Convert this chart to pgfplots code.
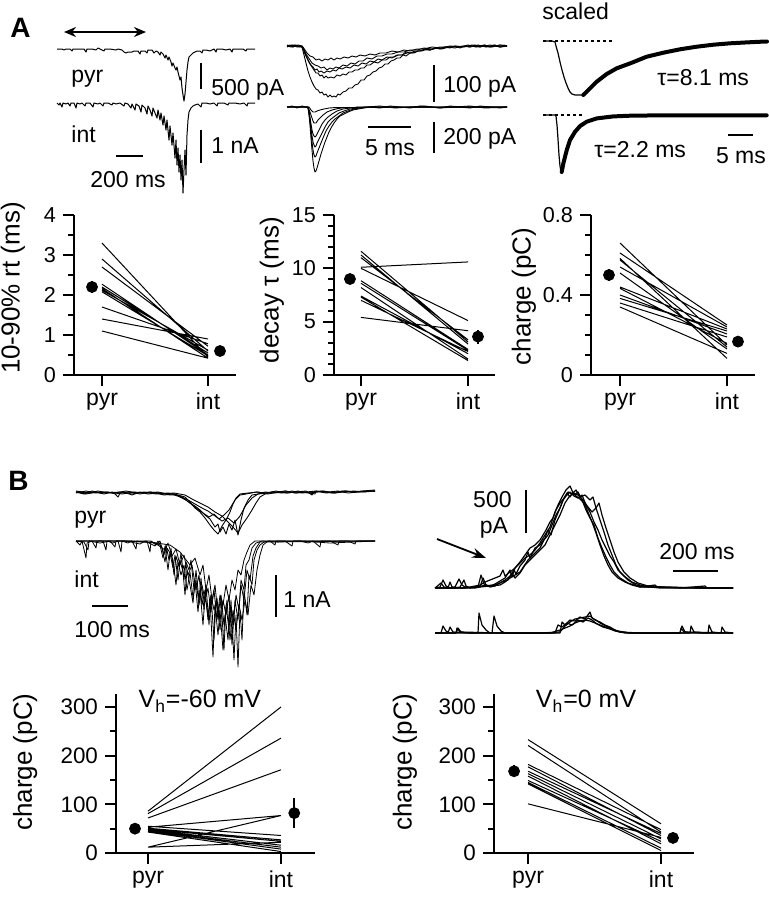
\documentclass[border=0pt]{standalone}
\usepackage{fontspec}
\setmainfont{Liberation Sans}
\usepackage{pgfplots}
\pgfplotsset{compat=1.18}
\usetikzlibrary{arrows.meta}

\tikzset{lab/.style={font=\fontsize{11.5}{13}\selectfont, inner sep=0pt}}
\pgfplotsset{
  pair/.style={
    scale only axis, anchor=south west, clip=false,
    axis lines=left, axis line style={-, line width=1pt},
    tick align=outside, major tick length=5.5pt, minor tick length=2.8pt,
    every tick/.style={black, line width=1pt},
    xtick={0,1}, xticklabels={pyr,int},
    /pgf/number format/assume math mode=true,
    yticklabel style={font=\fontsize{10.8}{12}\selectfont, /pgf/number format/fixed},
    xticklabel style={font=\fontsize{11.5}{13}\selectfont},
    ylabel style={font=\fontsize{13}{15}\selectfont, anchor=center},
  },
  pl/.style={black, line width=0.5pt, unbounded coords=jump},
  mean/.style={only marks, mark=*, mark size=2.75pt, black,
    error bars/.cd, y dir=both, y explicit, error mark=none,
    error bar style={line width=0.9pt}},
  tr/.style={black, line width=0.45pt, line join=round},
}

\begin{document}
\begin{tikzpicture}
\useasboundingbox (0,0) rectangle (384.5pt,-449.5pt);

% ---------- traces, placed on a frame in pixels of the original figure
\begin{axis}[at={(0pt,0pt)}, anchor=north west, scale only axis,
  width=384.5pt, height=449.5pt, xmin=0, xmax=769, ymin=0, ymax=899,
  y dir=reverse, hide axis, clip=false]

\node[anchor=base west, inner sep=0pt, font=\bfseries\fontsize{14}{16}\selectfont] at (axis cs:10,37) {A};
\node[anchor=base west, inner sep=0pt, font=\bfseries\fontsize{14}{16}\selectfont] at (axis cs:8,490) {B};

% A, left: pyr / int, long sweep
\draw[{Stealth[length=6pt,width=5pt]}-{Stealth[length=6pt,width=5pt]}, line width=0.8pt] (axis cs:64,32) -- (axis cs:146,32);
\addplot[tr, line width=0.5pt] coordinates {
(57,49)(62,49)(64,50)(66,49)(70,49)(72,51)(73,49)(80,49)(84,49)(86,52)(87,49)(92,49)(96,50)(98,48)(100,49)(104,51)(105,49)(110,49)(116,50)(118,49)(122,50)(124,52)(126,53)(128,52)(132,52)(134,51)(138,51)(140,54)(141,51)(145,51)(147,53)(148,50)(152,50)(154,53)(156,51)(158,52)(160,55)(161,52)(163,54)(165,58)(166,55)(168,60)(169,57)(171,62)(172,66)(173,63)(175,68)(176,70)(177,67)(178,72)(179,76)(180,80)(181,77)(182,88)(183,95)(184,101)(185,94)(186,82)(187,70)(188,62)(189,57)(191,55)(193,53)(195,52)(197,51)(200,51)(202,53)(203,50)(206,50)(210,51)(214,49)(216,52)(217,49)(222,49)(226,50)(230,49)(232,52)(233,49)(238,49)(243,49)(246,51)(247,49)(255,49)};
\addplot[tr, line width=0.5pt] coordinates {
(57,103)(59,105)(60,103)(62,107)(63,103)(66,104)(68,103)(70,106)(71,103)(74,103)(76,108)(77,103)(80,104)(82,103)(85,106)(86,103)(90,103)(93,107)(94,103)(98,104)(100,103)(103,106)(104,103)(108,103)(112,105)(113,103)(116,104)(120,103)(124,106)(125,103)(128,104)(131,108)(132,104)(135,110)(136,104)(139,106)(141,112)(142,105)(145,108)(147,114)(148,106)(150,110)(152,116)(153,108)(155,113)(157,118)(158,110)(160,120)(161,113)(163,125)(164,116)(166,130)(167,120)(169,140)(170,126)(172,145)(173,133)(175,158)(176,140)(177,165)(178,148)(179,172)(180,155)(181,180)(182,160)(183,193)(184,170)(185,150)(186,175)(187,135)(188,120)(189,112)(191,108)(193,106)(195,105)(198,104)(201,107)(202,103)(206,103)(210,104)(214,103)(217,106)(218,103)(224,103)(228,105)(229,103)(235,103)(240,104)(244,103)(247,106)(248,103)(255,103)};
\node[lab, anchor=base west] at (axis cs:71,82) {pyr};
\node[lab, anchor=base west] at (axis cs:71,142) {int};
\draw[line width=1pt] (axis cs:201,63) -- (axis cs:201,89);
\node[lab, anchor=base west] at (axis cs:211,95) {500 pA};
\draw[line width=1pt] (axis cs:201,130) -- (axis cs:201,163);
\node[lab, anchor=base west] at (axis cs:211,153) {1 nA};
\draw[line width=1pt] (axis cs:116,156) -- (axis cs:143,156);
\node[lab, anchor=base] at (axis cs:128,187) {200 ms};

% A, middle: single events
\addplot[tr] coordinates {(287,46)(290,45)(293,47)(296,45)(299,46)(302,47)(304,55)(306,63)(308,71)(310,77)(312,82)(314,86)(316,89)(318,90)(320,93)(322,92)(324,95)(326,94)(328,97)(330,95)(332,97)(334,96)(336,97)(338,94)(340,95)(343,92)(346,91)(349,88)(352,88)(355,85)(358,84)(361,80)(364,80)(367,76)(370,75)(373,72)(376,71)(379,68)(382,67)(385,64)(388,64)(391,61)(394,60)(397,58)(400,58)(403,55)(406,56)(410,53)(414,53)(418,51)(422,51)(426,49)(430,50)(435,48)(440,49)(445,47)(450,48)(455,46)(460,48)(465,46)(470,47)(475,45)(480,47)(485,45)(490,47)(495,45)(500,47)(504,45)(507,46)};
\addplot[tr] coordinates {(287,46)(291,47)(295,45)(299,47)(302,46)(304,50)(306,55)(308,60)(310,64)(312,67)(314,70)(316,73)(318,73)(320,76)(322,75)(324,78)(326,76)(328,78)(331,77)(334,78)(337,75)(340,76)(343,74)(346,75)(349,72)(352,72)(355,70)(358,70)(361,68)(364,68)(367,65)(370,65)(374,62)(378,63)(382,60)(386,60)(390,57)(394,57)(398,55)(402,55)(406,52)(410,53)(415,51)(420,51)(425,49)(430,50)(436,48)(442,49)(448,47)(455,48)(462,46)(470,47)(478,45)(486,47)(494,45)(500,47)(507,46)};
\addplot[tr] coordinates {(287,47)(292,45)(297,47)(301,46)(303,49)(305,54)(307,58)(309,62)(311,65)(313,67)(315,70)(317,69)(319,72)(321,71)(324,73)(327,71)(330,72)(333,70)(336,71)(339,68)(342,69)(346,67)(350,68)(354,65)(358,66)(362,63)(366,64)(370,61)(374,62)(378,59)(382,60)(387,57)(392,58)(397,55)(402,55)(407,53)(412,53)(418,51)(424,50)(430,50)(437,48)(444,48)(452,47)(460,47)(468,45)(476,47)(484,45)(492,47)(500,45)(507,46)};
\addplot[tr] coordinates {(287,45)(293,47)(298,45)(302,46)(304,50)(306,54)(308,57)(310,60)(312,63)(315,65)(318,66)(321,68)(324,67)(327,70)(330,68)(333,69)(336,67)(339,68)(343,65)(347,66)(351,63)(355,64)(359,61)(363,61)(367,58)(372,59)(377,56)(382,56)(387,54)(392,54)(398,52)(404,52)(410,50)(417,50)(424,48)(432,49)(440,47)(448,47)(456,46)(464,47)(472,45)(480,46)(490,47)(500,45)(507,46)};
\addplot[tr] coordinates {(287,46)(294,45)(300,47)(303,47)(305,50)(307,53)(310,56)(313,57)(316,60)(319,59)(322,61)(325,59)(328,60)(331,58)(334,60)(337,58)(340,59)(344,57)(348,58)(352,56)(356,57)(360,55)(365,56)(370,54)(375,55)(380,53)(386,53)(392,51)(398,52)(404,50)(410,51)(417,49)(424,49)(432,47)(440,48)(450,46)(460,47)(470,46)(480,47)(490,45)(500,47)(507,46)};
\addplot[tr] coordinates {(287,107)(292,106)(297,108)(302,106)(306,107)(308,108)(309,115)(310,125)(311,138)(312,150)(313,161)(314,168)(315,172)(316,171)(317,168)(319,161)(321,154)(323,148)(325,142)(327,137)(329,132)(331,128)(334,123)(337,119)(340,116)(344,114)(348,112)(353,110)(358,109)(364,108)(370,107)(380,108)(390,106)(400,107)(410,108)(420,106)(430,107)(440,108)(450,106)(460,107)(470,108)(480,106)(490,107)(500,108)(507,107)};
\addplot[tr] coordinates {(287,107)(308,107)(309,113)(310,122)(311,132)(312,142)(313,150)(314,155)(315,157)(316,156)(317,153)(319,148)(321,143)(323,138)(326,131)(329,126)(332,122)(335,119)(339,116)(343,113)(348,111)(354,109)(360,108)(368,107)(380,106)(395,108)(410,107)(425,106)(440,108)(455,107)(470,106)(485,108)(507,107)};
\addplot[tr] coordinates {(287,107)(308,107)(309,112)(310,120)(311,128)(312,136)(313,142)(314,145)(315,147)(316,146)(317,143)(319,139)(321,135)(323,131)(325,127)(328,122)(331,119)(335,116)(339,113)(344,111)(350,109)(357,108)(365,107)(507,107)};
\addplot[tr] coordinates {(287,107)(308,107)(309,111)(310,117)(311,124)(312,130)(313,134)(314,136)(315,137)(316,136)(318,132)(320,128)(322,124)(325,120)(328,117)(332,114)(337,111)(343,109)(350,108)(358,107)(507,107)};
\addplot[tr] coordinates {(287,107)(308,107)(310,112)(312,118)(313,121)(314,123)(316,123)(318,120)(320,118)(323,115)(327,112)(332,110)(338,108.5)(345,107.5)(507,107)};
\addplot[tr] coordinates {(287,107)(309,107)(311,110)(313,112)(315,112)(317,111)(320,110)(324,109)(329,108)(336,107.5)(507,107)};
\draw[line width=1pt] (axis cs:434,65) -- (axis cs:434,102);
\node[lab, anchor=base west] at (axis cs:443,92) {100 pA};
\draw[line width=1pt] (axis cs:434,122) -- (axis cs:434,153);
\node[lab, anchor=base west] at (axis cs:443,144) {200 pA};
\draw[line width=1pt] (axis cs:368,127) -- (axis cs:411,127);
\node[lab, anchor=base] at (axis cs:390,155) {5 ms};

% A, right: scaled averages with fits
\node[lab, anchor=base west] at (axis cs:542,19) {scaled};
\draw[line width=0.6pt, dash pattern=on 1.5pt off 1.5pt] (axis cs:543,41) -- (axis cs:615,41);
\draw[line width=0.6pt, dash pattern=on 1.5pt off 1.5pt] (axis cs:543,115) -- (axis cs:585,115);
\addplot[tr, line width=0.6pt] coordinates {(543,41)(548,41)(552,41)(555,42)(556,46)(558,53)(560,62)(562,70)(564,77)(566,83)(568,88)(570,92)(572,94)(575,95)(578,95)(581,95)(584,95)};
\addplot[black, line width=2pt, line cap=round] coordinates {(583.3,95)(590,88.4)(596.7,81.7)(606.7,74)(616.7,68.3)(630,63.4)(646.7,56.7)(663.3,52.7)(680,49.3)(696.7,46.7)(713.3,44.7)(730,43.3)(746.7,42.4)(763.3,41.6)(767,41.5)};
\addplot[tr, line width=0.6pt] coordinates {(543,115)(550,115)(555,115)(556,116)(557,125)(558,139)(559,155)(560,166)(561,172)(562,172)};
\addplot[black, line width=2pt, line cap=round] coordinates {(561.7,172)(563.3,163.6)(566.7,150.2)(570,140.1)(575,131.8)(580,126.1)(586.7,121.7)(596.7,118.4)(613.3,116.4)(630,115.7)(663.3,115.3)(766.7,115.3)};
\node[lab, anchor=base west] at (axis cs:657,85) {τ=8.1 ms};
\node[lab, anchor=base west] at (axis cs:594,157) {τ=2.2 ms};
\draw[line width=1pt] (axis cs:728,135) -- (axis cs:753,135);
\node[lab, anchor=base] at (axis cs:741,163) {5 ms};

% B, left: pyr / int, several sweeps
\addplot[tr] coordinates {(76,492)(84,494)(92,491)(100,493)(108,492)(116,494)(124,492)(132,495)(140,492)(148,494)(156,493)(164,495)(172,494)(180,497)(186,500)(190,503)(195,506)(200,510)(205,515)(210,519)(215,527)(218,524)(220,532)(223,527)(226,534)(229,524)(232,530)(235,520)(238,535)(241,520)(244,508)(248,500)(252,495)(258,494)(265,492)(275,493)(285,491)(295,493)(305,492)(315,494)(316,491)(325,492)(335,493)(345,491)(355,492)(365,491)(375,491)};
\addplot[tr] coordinates {(76,493)(86,491)(96,493)(106,492)(114,493)(118,497)(120,493)(130,492)(140,494)(150,492)(160,493)(170,495)(178,495)(185,497)(190,502)(195,508)(200,512)(205,518)(210,525)(214,530)(218,534)(222,526)(226,520)(230,512)(233,504)(236,498)(240,494)(248,493)(258,492)(268,494)(278,492)(288,493)(298,491)(308,493)(318,492)(328,492)(338,491)(348,493)(358,492)(375,491)};
\addplot[tr] coordinates {(76,492)(88,493)(98,491)(108,493)(120,492)(132,494)(144,492)(156,494)(168,493)(174,494)(180,496)(188,500)(195,504)(202,508)(208,511)(215,516)(222,521)(228,518)(234,523)(240,516)(246,505)(252,498)(258,494)(266,493)(276,491)(286,493)(296,492)(306,491)(312,495)(314,492)(324,491)(334,493)(344,492)(354,491)(364,492)(375,491)};
\addplot[tr] coordinates {(76,491)(90,493)(102,492)(114,493)(126,491)(138,493)(150,492)(162,494)(174,493)(185,495)(192,499)(200,503)(208,507)(215,512)(222,516)(228,522)(233,527)(238,533)(242,525)(247,518)(252,510)(256,503)(260,497)(265,494)(272,492)(282,493)(292,491)(302,493)(312,492)(322,491)(332,493)(342,491)(352,492)(362,491)(375,490)};
\addplot[tr] coordinates {(76,492)(86,494)(96,492)(104,494)(112,492)(122,494)(134,492)(146,493)(158,492)(168,494)(175,494)(183,498)(190,503)(196,508)(203,513)(209,517)(214,514)(219,519)(224,515)(229,510)(235,500)(240,495)(246,494)(256,492)(266,493)(276,492)(286,491)(296,493)(306,492)(316,491)(326,493)(336,492)(346,491)(356,492)(375,491)};
\addplot[tr, line width=0.4pt] coordinates {(76,541)(80,545)(82,541)(86,558)(87,543)(92,541)(96,548)(97,541)(103,541)(106,550)(107,541)(113,543)(118,541)(121,552)(122,541)(128,543)(132,541)(136,549)(137,541)(142,542)(147,541)(150,552)(151,541)(156,545)(160,541)(164,555)(166,545)(169,560)(171,548)(174,575)(176,556)(179,566)(181,553)(184,580)(186,562)(189,570)(191,560)(194,590)(196,570)(199,600)(201,578)(204,610)(206,585)(209,625)(211,595)(214,640)(216,600)(219,620)(221,598)(224,650)(226,605)(229,630)(231,600)(234,660)(236,615)(238,667)(240,610)(242,640)(244,590)(247,615)(249,575)(252,585)(254,560)(257,550)(260,545)(264,542)(270,541)(275,545)(276,541)(285,541)(292,546)(293,541)(300,541)(308,543)(313,541)(320,547)(321,541)(330,541)(338,545)(339,541)(348,541)(355,544)(356,541)(365,541)(375,541)};
\addplot[tr, line width=0.4pt] coordinates {(76,541)(84,542)(88,550)(89,541)(100,543)(110,541)(115,547)(116,541)(126,541)(140,544)(145,541)(155,546)(158,541)(162,548)(165,562)(167,548)(170,553)(173,568)(175,555)(178,580)(180,560)(183,572)(185,595)(187,570)(190,585)(193,603)(195,580)(198,612)(200,590)(203,625)(205,596)(208,615)(210,600)(213,657)(215,605)(218,635)(220,610)(223,650)(225,615)(228,640)(230,605)(233,625)(236,595)(239,610)(241,580)(244,590)(246,565)(249,560)(252,548)(256,543)(262,541)(280,542)(300,541)(330,543)(375,541)};
\addplot[tr, line width=0.4pt] coordinates {(76,541)(95,541)(120,541)(150,542)(170,545)(180,552)(190,565)(195,558)(200,575)(203,565)(206,590)(209,575)(212,600)(215,585)(218,615)(221,595)(224,625)(227,600)(230,640)(233,610)(236,630)(239,605)(242,620)(245,600)(248,615)(251,585)(254,595)(257,570)(260,555)(263,545)(268,541)(375,541)};
\addplot[tr, line width=0.4pt] coordinates {(76,541)(130,541)(155,543)(165,550)(168,543)(172,556)(176,549)(180,565)(184,555)(188,575)(192,565)(196,590)(199,575)(202,605)(205,590)(208,620)(211,595)(214,610)(217,598)(220,630)(223,600)(226,615)(229,595)(232,645)(235,600)(238,620)(241,585)(244,600)(247,570)(250,580)(253,556)(256,548)(260,542)(375,541)};
\addplot[tr, line width=0.4pt] coordinates {(76,541)(110,541)(150,541)(160,545)(163,558)(165,546)(168,570)(170,553)(173,560)(176,585)(178,562)(181,575)(184,565)(187,590)(190,572)(193,598)(196,580)(199,605)(202,585)(205,600)(208,588)(211,612)(214,590)(217,620)(220,595)(223,605)(226,585)(229,600)(232,580)(235,590)(238,570)(241,575)(244,560)(247,552)(250,545)(255,541)(375,541)};
\node[lab, anchor=base west] at (axis cs:74,523) {pyr};
\node[lab, anchor=base west] at (axis cs:74,587) {int};
\draw[line width=1pt] (axis cs:276,575) -- (axis cs:276,617);
\node[lab, anchor=base west] at (axis cs:283,607) {1 nA};
\draw[line width=1pt] (axis cs:92,606) -- (axis cs:128,606);
\node[lab, anchor=base west] at (axis cs:74,637) {100 ms};

% B, right: outward currents at 0 mV
\addplot[tr, line width=0.6pt] coordinates {(435,588)(440,587)(443,580)(446,586)(450,588)(455,588)(460,587)(464,580)(466,586)(470,588)(478,587)(481,575)(484,584)(490,587)(495,586)(500,583)(505,580)(510,576)(514,570)(516,574)(520,566)(525,560)(528,552)(530,558)(535,548)(540,545)(545,538)(548,530)(551,535)(555,520)(560,508)(564,498)(567,493)(570,497)(573,492)(576,496)(580,499)(584,503)(588,512)(592,522)(596,533)(600,545)(604,556)(608,565)(612,572)(618,578)(625,582)(632,585)(640,587)(650,587)(660,588)(690,588)(733,588)};
\addplot[tr, line width=0.6pt] coordinates {(435,588)(448,588)(450,582)(452,587)(462,588)(470,587)(475,586)(480,585)(485,582)(490,580)(495,578)(500,576)(503,570)(505,576)(510,572)(515,568)(520,562)(525,555)(530,548)(535,545)(540,540)(546,530)(550,522)(553,518)(556,510)(560,503)(565,497)(568,492)(572,494)(576,490)(580,497)(585,495)(590,500)(593,497)(596,508)(600,520)(604,532)(608,545)(612,555)(616,565)(620,572)(628,580)(636,585)(645,587)(700,588)(733,588)};
\addplot[tr, line width=0.6pt] coordinates {(435,588)(441,583)(444,587)(448,588)(455,587)(459,579)(462,585)(465,587)(475,588)(480,587)(483,578)(486,585)(490,586)(495,584)(500,581)(505,578)(510,570)(512,577)(515,568)(520,563)(525,558)(530,555)(535,550)(540,543)(545,535)(550,527)(555,512)(558,505)(562,497)(566,490)(570,486)(574,495)(578,492)(582,500)(586,510)(590,518)(594,525)(598,538)(602,548)(606,557)(610,565)(614,572)(620,578)(628,583)(640,587)(655,585)(657,587)(700,588)(733,588)};
\addplot[tr, line width=0.6pt] coordinates {(435,588)(470,588)(490,586)(500,585)(505,582)(510,578)(515,575)(520,572)(524,566)(528,560)(532,556)(536,552)(540,548)(544,540)(548,535)(552,525)(556,515)(560,508)(563,500)(566,496)(570,492)(574,496)(578,498)(582,495)(586,505)(590,512)(594,522)(598,530)(602,540)(606,548)(610,556)(614,562)(618,570)(624,576)(632,582)(640,585)(650,587)(733,588)};
\addplot[tr, line width=0.6pt] coordinates {(435,588)(465,588)(480,586)(495,585)(502,582)(508,580)(512,573)(515,578)(520,573)(525,565)(530,560)(535,555)(540,550)(545,545)(550,535)(555,525)(560,515)(565,503)(569,497)(573,493)(578,495)(583,500)(588,507)(592,512)(596,508)(599,503)(602,515)(606,528)(610,540)(614,552)(618,562)(624,572)(630,578)(638,583)(648,586)(680,588)(705,586)(707,588)(733,588)};
\addplot[tr, line width=0.6pt] coordinates {(435,633)(441,633)(443,626)(446,631)(450,633)(456,633)(458,628)(461,632)(470,633)(478,633)(479,613)(482,625)(486,630)(490,633)(500,633)(520,633)(540,633)(560,632)(565,626)(570,622)(575,619)(580,618)(585,617)(590,616)(595,620)(600,622)(605,625)(610,627)(615,630)(620,632)(630,633)(680,633)(682,626)(685,632)(700,633)(733,633)};
\addplot[tr, line width=0.6pt] coordinates {(435,633)(448,633)(450,627)(453,632)(470,633)(492,633)(494,616)(497,626)(501,631)(505,633)(540,633)(560,633)(562,622)(565,625)(570,620)(575,621)(580,617)(585,619)(590,612)(592,618)(596,620)(600,623)(606,626)(612,629)(620,632)(640,633)(690,633)(691,626)(694,632)(708,633)(709,625)(712,632)(721,633)(722,627)(725,632)(733,633)};
\addplot[tr, line width=0.6pt] coordinates {(435,633)(500,633)(540,633)(555,633)(558,625)(562,627)(567,623)(572,625)(578,620)(583,622)(588,618)(592,620)(597,624)(603,627)(610,629)(618,631)(630,633)(733,633)};
\addplot[tr, line width=0.6pt] coordinates {(435,633)(456,633)(457,628)(460,632)(500,633)(550,633)(560,630)(565,628)(570,626)(575,623)(580,621)(585,620)(590,621)(595,623)(600,625)(608,628)(615,631)(625,633)(680,633)(681,628)(684,632)(733,633)};
\draw[line width=1pt] (axis cs:526,490) -- (axis cs:526,533);
\node[lab, anchor=base east] at (axis cs:512,507) {500};
\node[lab, anchor=base] at (axis cs:494,533) {pA};
\draw[line width=1pt] (axis cs:673,571) -- (axis cs:718,571);
\node[lab, anchor=base] at (axis cs:697,559) {200 ms};
\draw[-{Stealth[length=7pt,width=5pt]}, line width=0.9pt] (axis cs:437,539) -- (axis cs:486,558);
\end{axis}

% ---------- A: rise time
\begin{axis}[pair, at={(37pt,-187.5pt)}, width=81pt, height=80pt,
  xmin=-0.264, xmax=1.264, ymin=0, ymax=4,
  ytick={0,1,2,3,4}, minor ytick={0.5,1.5,2.5,3.5},
  ylabel={10-90\% rt (ms)}, ylabel style={at={(axis description cs:-0.377,0.544)}}]
\addplot[pl] coordinates {(0,3.3)(1,0.45)(0,nan)(0,2.9)(1,0.6)(0,nan)(0,2.7)(1,0.72)(0,nan)(0,2.27)(1,0.5)(0,nan)(0,2.2)(1,0.55)(0,nan)(0,2.16)(1,0.42)(0,nan)(0,2.12)(1,0.62)(0,nan)(0,2.08)(1,0.48)(0,nan)(0,1.7)(1,0.78)(0,nan)(0,1.4)(1,0.9)(0,nan)(0,1.1)(1,0.42)};
\addplot[mean] coordinates {(-0.094,2.2) +- (0,0.15) (1.113,0.6) +- (0,0.05)};
\end{axis}

% ---------- A: decay
\begin{axis}[pair, at={(167pt,-187.5pt)}, width=80.5pt, height=80pt,
  xmin=-0.252, xmax=1.252, ymin=0, ymax=15,
  ytick={0,5,10,15}, minor ytick={1,2,3,4,6,7,8,9,11,12,13,14},
  ylabel={decay τ (ms)}, ylabel style={at={(axis description cs:-0.385,0.53)}}]
\addplot[pl] coordinates {(0,11.6)(1,3.1)(0,nan)(0,11.25)(1,2.9)(0,nan)(0,11.0)(1,3.3)(0,nan)(0,10.1)(1,10.6)(0,nan)(0,10.0)(1,5.1)(0,nan)(0,8.84)(1,2.4)(0,nan)(0,8.6)(1,2.3)(0,nan)(0,8.2)(1,1.5)(0,nan)(0,7.4)(1,2.0)(0,nan)(0,7.3)(1,1.35)(0,nan)(0,7.0)(1,2.2)(0,nan)(0,5.4)(1,4.15)};
\addplot[mean] coordinates {(-0.103,9.0) +- (0,0.5) (1.093,3.6) +- (0,0.65)};
\end{axis}

% ---------- A: charge
\begin{axis}[pair, at={(295.5pt,-187.5pt)}, width=82pt, height=80pt,
  xmin=-0.271, xmax=1.262, ymin=0, ymax=0.8,
  ytick={0,0.4,0.8}, minor ytick={0.1,0.2,0.3,0.5,0.6,0.7},
  ylabel={charge (pC)}, ylabel style={at={(axis description cs:-0.409,0.49)}}]
\addplot[pl] coordinates {(0,0.66)(1,0.15)(0,nan)(0,0.61)(1,0.25)(0,nan)(0,0.583)(1,0.083)(0,nan)(0,0.575)(1,0.14)(0,nan)(0,0.54)(1,0.24)(0,nan)(0,0.51)(1,0.13)(0,nan)(0,0.44)(1,0.23)(0,nan)(0,0.433)(1,0.158)(0,nan)(0,0.40)(1,0.205)(0,nan)(0,0.383)(1,0.22)(0,nan)(0,0.36)(1,0.19)(0,nan)(0,0.34)(1,0.108)};
\addplot[mean] coordinates {(-0.103,0.5) +- (0,0.03) (1.103,0.167) +- (0,0.015)};
\end{axis}

% ---------- B: charge at -60 mV
\begin{axis}[pair, at={(58pt,-426.5pt)}, width=99.5pt, height=79.5pt,
  xmin=-0.241, xmax=1.256, ymin=0, ymax=326.7,
  ytick={0,100,200,300}, minor ytick={50,150,250},
  yticklabel style={font=\fontsize{11.2}{13}\selectfont},
  ylabel={charge (pC)}, ylabel style={at={(axis description cs:-0.457,0.572)}}]
\addplot[pl] coordinates {(0,86)(1,300)(0,nan)(0,81)(1,236)(0,nan)(0,72)(1,171)(0,nan)(0,12)(1,77)(0,nan)(0,53)(1,77)(0,nan)(0,12)(1,22)(0,nan)(0,55)(1,36)(0,nan)(0,51)(1,27)(0,nan)(0,49)(1,24)(0,nan)(0,48)(1,16)(0,nan)(0,46)(1,12)(0,nan)(0,45)(1,8)(0,nan)(0,43)(1,3)};
\addplot[mean] coordinates {(-0.098,50) +- (0,6) (1.10,82) +- (0,30)};
\node[anchor=base, inner sep=0pt, font=\fontsize{12.5}{14}\selectfont] at (axis cs:0.39,298) {V\textsubscript{h}=-60 mV};
\end{axis}

% ---------- B: charge at 0 mV
\begin{axis}[pair, at={(247pt,-426.5pt)}, width=100pt, height=79.5pt,
  xmin=-0.256, xmax=1.248, ymin=0, ymax=326.7,
  ytick={0,100,200,300}, minor ytick={50,150,250},
  yticklabel style={font=\fontsize{11.2}{13}\selectfont},
  ylabel={charge (pC)}, ylabel style={at={(axis description cs:-0.445,0.572)}}]
\addplot[pl] coordinates {(0,233)(1,60)(0,nan)(0,221)(1,43)(0,nan)(0,182)(1,48)(0,nan)(0,177)(1,36)(0,nan)(0,168)(1,40)(0,nan)(0,163)(1,29)(0,nan)(0,158)(1,19)(0,nan)(0,149)(1,24)(0,nan)(0,145)(1,10)(0,nan)(0,142)(1,5)(0,nan)(0,101)(1,32)};
\addplot[mean] coordinates {(-0.105,168) +- (0,12) (1.09,31) +- (0,6)};
\node[anchor=base, inner sep=0pt, font=\fontsize{12.5}{14}\selectfont] at (axis cs:0.436,298) {V\textsubscript{h}=0 mV};
\end{axis}
\end{tikzpicture}
\end{document}
